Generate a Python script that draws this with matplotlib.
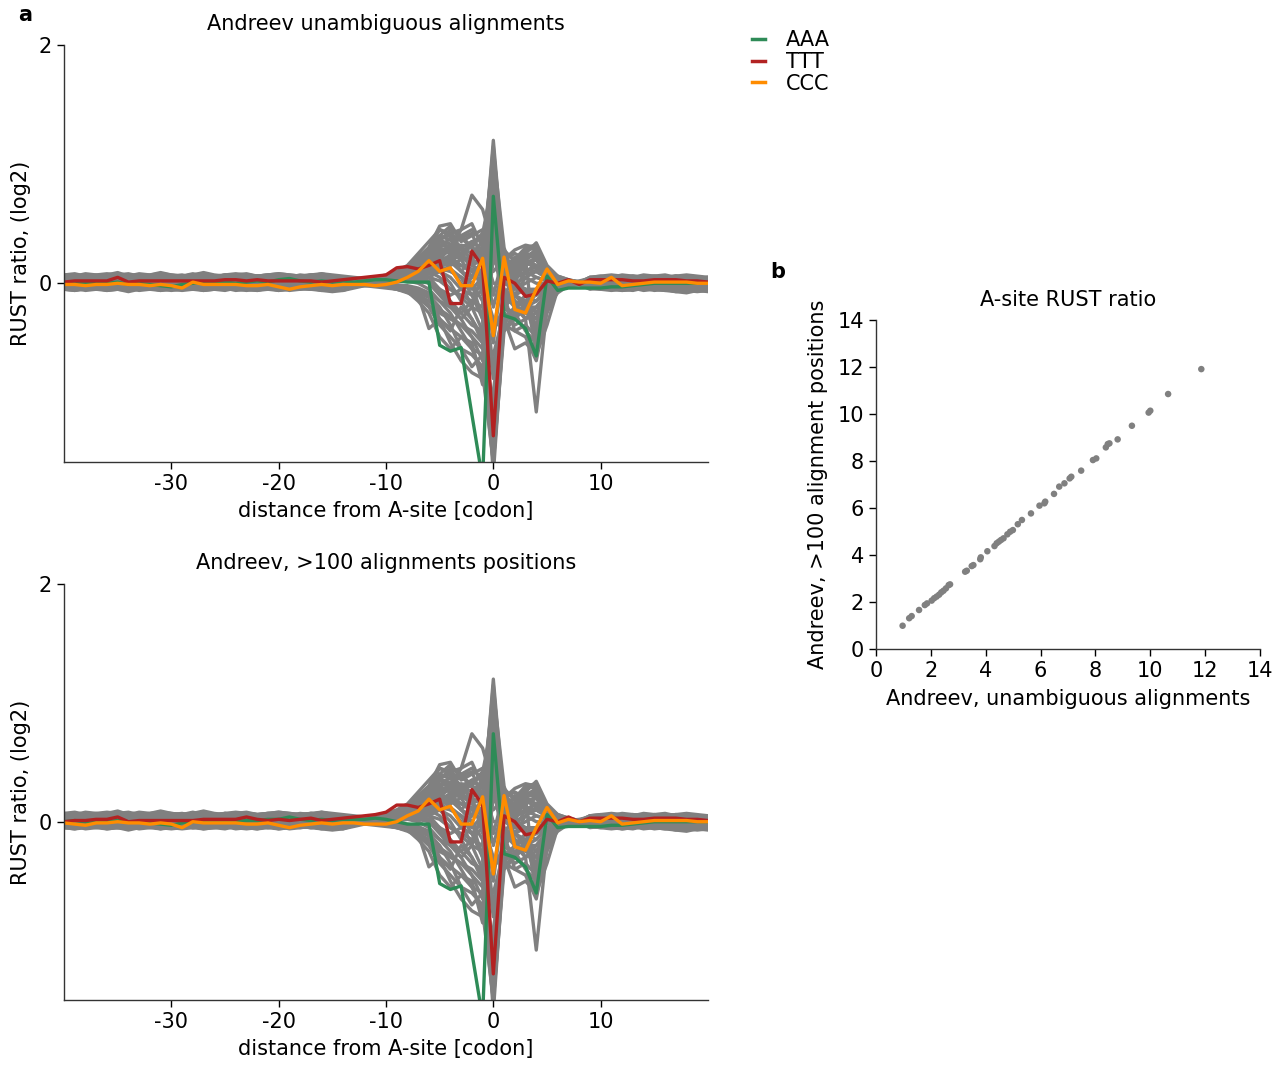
import numpy as np
import matplotlib
matplotlib.use("Agg")
import matplotlib.pyplot as plt
from matplotlib.lines import Line2D

plt.rcParams['font.family'] = ['DejaVu Sans']
plt.rcParams['axes.unicode_minus'] = False

# ---------------- data ----------------
positions = list(range(-40, 21))  # distance from A-site [codon]

# colored codons, top panel (unambiguous alignments)
aaa_top = [0.0, 0.01, 0.0, 0.01, 0.0, 0.01, -0.01, 0.0, -0.01, -0.02, -0.03, -0.01, 0.0, 0.01,
           0.0, 0.01, 0.0, 0.01, 0.02, 0.01, 0.03, 0.04, 0.02, 0.01, 0.02, 0.01, 0.02, 0.01,
           0.02, 0.03, 0.03, 0.02, 0.01, 0.01, 0.01, -0.52, -0.57, -0.54, -1.1, -1.65, 0.73,
           -0.27, -0.3, -0.38, -0.61, 0.06, -0.06, -0.04, -0.04,
           -0.04, -0.04, -0.03, -0.03, -0.02, -0.01, 0.0, 0.0, 0.0, 0.0, 0.0, 0.0]
ttt_top = [0.01, 0.02, 0.02, 0.02, 0.02, 0.05, 0.01, 0.02, 0.02, 0.02, 0.02, 0.02, 0.02, 0.02,
           0.02, 0.03, 0.03, 0.02, 0.03, 0.02, 0.02, 0.02, 0.02, 0.02, 0.01, 0.02, 0.03, 0.04,
           0.05, 0.06, 0.07, 0.13, 0.14, 0.12, 0.15, 0.19, -0.17, -0.17, 0.27, 0.14, -1.28,
           0.05, 0.0, -0.11, -0.09, 0.02, 0.0, 0.03, -0.01,
           0.03, 0.03, 0.03, 0.03, 0.02, 0.02, 0.03, 0.03, 0.03, 0.02, 0.02, 0.01]
ccc_top = [-0.01, -0.01, -0.02, -0.01, -0.01, 0.0, -0.01, -0.01, -0.02, -0.01, -0.02, -0.04, 0.01, -0.01,
           -0.01, -0.01, -0.01, -0.02, -0.02, -0.01, -0.03, -0.05, -0.03, -0.02, -0.01, -0.02, -0.01, -0.01,
           -0.01, -0.02, -0.01, 0.01, 0.05, 0.1, 0.19, 0.1, 0.13, -0.02, -0.02, 0.21, -0.44,
           0.22, -0.22, -0.25, -0.05, 0.12, -0.01, 0.02, 0.01,
           0.01, 0.0, 0.05, -0.02, -0.01, 0.0, 0.01, 0.01, 0.01, 0.01, 0.0, 0.0]

# colored codons, bottom panel (>100 alignments positions)
aaa_bot = [0.0, 0.01, 0.0, 0.01, 0.0, 0.01, 0.0, 0.0, -0.01, -0.02, -0.03, -0.01, 0.0, 0.01,
           0.0, 0.01, 0.0, 0.01, 0.01, 0.02, 0.02, 0.04, 0.02, 0.01, 0.02, 0.01, 0.02, 0.02,
           0.02, 0.03, 0.02, 0.0, -0.02, -0.02, -0.02, -0.52, -0.57, -0.54, -1.1, -1.65, 0.74,
           -0.27, -0.3, -0.38, -0.6, 0.06, -0.05, -0.04, -0.04,
           -0.04, -0.04, -0.03, -0.03, -0.02, -0.01, 0.0, 0.0, 0.0, 0.0, 0.0, 0.0]
ttt_bot = [0.0, 0.01, 0.01, 0.02, 0.02, 0.04, 0.0, 0.01, 0.01, 0.01, 0.01, 0.01, 0.01, 0.02,
           0.02, 0.02, 0.02, 0.04, 0.02, 0.01, 0.02, 0.01, 0.02, 0.03, 0.01, 0.02, 0.03, 0.04,
           0.05, 0.06, 0.08, 0.14, 0.14, 0.12, 0.15, 0.19, -0.17, -0.17, 0.27, 0.14, -1.28,
           0.05, 0.0, -0.11, -0.09, 0.02, 0.0, 0.04, 0.0,
           0.03, 0.03, 0.03, 0.03, 0.02, 0.02, 0.03, 0.03, 0.03, 0.02, 0.02, 0.01]
ccc_bot = [-0.01, -0.02, -0.03, -0.01, -0.01, 0.0, -0.01, -0.01, -0.02, -0.01, -0.02, -0.05, 0.0, -0.01,
           -0.01, -0.01, -0.01, -0.02, -0.02, -0.01, -0.03, -0.05, -0.03, -0.02, -0.01, -0.02, -0.01, -0.01,
           -0.02, -0.02, -0.02, 0.0, 0.05, 0.09, 0.19, 0.1, 0.13, -0.02, -0.02, 0.21, -0.44,
           0.22, -0.21, -0.24, -0.05, 0.12, -0.01, 0.02, 0.0,
           0.01, 0.0, 0.05, -0.02, -0.01, 0.0, 0.01, 0.01, 0.01, 0.01, 0.0, 0.0]

# other codons: upstream tail (-40..-13), core (-12..8), downstream tail (9..20)
grey_left = [
    [0.03,0.04,0.02,0.03,0.05,0.04,0.02,0.03,0.04,0.03,0.05,0.02,0.03,0.04,0.03,0.02,0.04,0.05,0.03,0.02,0.04,0.03,0.05,0.04,0.03,0.04,0.05,0.04],
    [0.05,0.06,0.04,0.05,0.07,0.05,0.04,0.06,0.05,0.04,0.06,0.07,0.05,0.04,0.05,0.06,0.05,0.07,0.06,0.05,0.04,0.06,0.05,0.07,0.06,0.05,0.04,0.03],
    [0.06,0.07,0.05,0.06,0.07,0.09,0.06,0.05,0.06,0.07,0.05,0.06,0.08,0.06,0.05,0.07,0.06,0.05,0.06,0.07,0.06,0.05,0.07,0.06,0.08,0.07,0.06,0.05],
    [0.04,0.03,0.05,0.04,0.03,0.04,0.06,0.04,0.03,0.05,0.04,0.03,0.04,0.05,0.06,0.04,0.03,0.04,0.05,0.04,0.03,0.05,0.04,0.06,0.05,0.04,0.05,0.04],
    [0.0,0.01,-0.01,0.0,0.02,0.01,0.0,-0.01,0.01,0.0,0.02,0.0,-0.01,0.01,0.0,0.01,-0.01,0.0,0.02,0.01,0.0,0.01,-0.01,0.0,0.01,0.02,0.0,0.01],
    [0.02,0.01,0.03,0.02,0.01,0.03,0.02,0.04,0.02,0.01,0.02,0.03,0.02,0.01,0.03,0.02,0.03,0.01,0.02,0.03,0.02,0.01,0.02,0.03,0.02,0.01,0.02,0.02],
    [-0.01,0.0,-0.02,-0.01,0.0,-0.01,-0.02,0.0,-0.01,0.01,-0.01,0.0,-0.02,-0.01,0.0,-0.01,0.01,0.0,-0.01,-0.02,0.0,-0.01,0.0,0.01,-0.01,0.0,0.01,0.0],
    [-0.05,-0.04,-0.06,-0.05,-0.04,-0.05,-0.06,-0.04,-0.05,-0.06,-0.05,-0.04,-0.05,-0.06,-0.05,-0.04,-0.06,-0.05,-0.04,-0.05,-0.06,-0.05,-0.04,-0.05,-0.06,-0.07,-0.06,-0.04],
    [-0.02,-0.01,-0.03,-0.02,-0.01,-0.02,-0.03,-0.02,-0.04,-0.02,-0.01,-0.02,-0.03,-0.02,-0.01,-0.03,-0.02,-0.01,-0.02,-0.03,-0.02,-0.01,-0.03,-0.02,-0.04,-0.05,-0.06,-0.03],
    [-0.04,-0.05,-0.03,-0.04,-0.05,-0.04,-0.03,-0.05,-0.04,-0.06,-0.04,-0.03,-0.04,-0.05,-0.04,-0.03,-0.04,-0.05,-0.06,-0.04,-0.03,-0.04,-0.05,-0.04,-0.05,-0.04,-0.03,-0.02],
    [0.01,0.02,0.0,0.01,0.03,0.02,0.01,0.0,0.02,0.01,0.03,0.05,0.02,0.01,0.0,0.01,0.02,0.01,0.03,0.02,0.01,0.0,0.02,0.01,0.03,0.02,0.01,0.02],
    [0.03,0.02,0.04,0.03,0.02,0.03,0.05,0.03,0.02,0.04,0.03,0.02,0.03,0.04,0.02,0.03,0.05,0.03,0.02,0.03,0.04,0.03,0.02,0.04,0.03,0.02,0.03,0.02],
    [0.07,0.06,0.08,0.07,0.06,0.07,0.08,0.06,0.07,0.08,0.07,0.06,0.07,0.09,0.07,0.06,0.07,0.08,0.06,0.07,0.08,0.07,0.06,0.07,0.08,0.06,0.04,0.02],
    [0.0,-0.01,0.01,0.0,-0.01,0.0,0.02,0.0,-0.01,0.0,0.01,-0.01,0.0,0.01,0.02,0.0,-0.01,0.0,0.01,0.0,-0.02,0.0,0.01,0.0,-0.01,0.0,0.01,0.0],
    [-0.03,-0.02,-0.04,-0.03,-0.02,-0.04,-0.05,-0.03,-0.02,-0.03,-0.04,-0.02,-0.03,-0.05,-0.04,-0.03,-0.02,-0.03,-0.04,-0.03,-0.05,-0.04,-0.03,-0.02,-0.03,-0.04,-0.03,-0.02],
    [0.05,0.04,0.06,0.05,0.04,0.05,0.07,0.05,0.04,0.06,0.05,0.04,0.05,0.06,0.05,0.07,0.05,0.04,0.06,0.05,0.04,0.05,0.06,0.05,0.04,0.05,0.04,0.03],
    [0.01,0.0,0.02,0.01,0.0,0.01,0.02,0.01,0.03,0.01,0.0,0.01,0.02,0.0,0.01,0.02,0.01,0.0,0.01,0.03,0.01,0.0,0.02,0.01,0.0,0.01,0.02,0.01],
    [-0.02,-0.03,-0.01,-0.02,-0.04,-0.02,-0.01,-0.03,-0.02,-0.01,-0.02,-0.03,-0.04,-0.02,-0.01,-0.02,-0.03,-0.02,-0.01,-0.03,-0.02,-0.04,-0.02,-0.01,-0.02,-0.03,-0.02,-0.02],
    [0.02,0.03,0.01,0.02,0.03,0.02,0.01,0.03,0.02,0.04,0.02,0.01,0.02,0.03,0.02,0.01,0.02,0.03,0.04,0.02,0.01,0.02,0.03,0.02,0.01,0.02,0.01,0.0],
    [0.04,0.05,0.03,0.04,0.06,0.04,0.03,0.05,0.04,0.03,0.04,0.06,0.04,0.05,0.03,0.04,0.05,0.04,0.03,0.05,0.06,0.04,0.03,0.04,0.05,0.04,0.03,0.02],
    [-0.04,-0.03,-0.05,-0.04,-0.03,-0.04,-0.05,-0.03,-0.04,-0.05,-0.04,-0.03,-0.05,-0.04,-0.03,-0.04,-0.05,-0.04,-0.03,-0.04,-0.05,-0.04,-0.03,-0.04,-0.05,-0.03,-0.02,-0.01],
    [0.01,0.02,0.01,0.03,0.01,0.02,0.0,0.01,0.02,0.01,0.02,0.03,0.01,0.0,0.02,0.01,0.02,0.01,0.03,0.02,0.01,0.02,0.0,0.01,0.02,0.03,0.02,0.01],
    [0.06,0.05,0.07,0.06,0.05,0.06,0.07,0.05,0.06,0.07,0.05,0.06,0.05,0.07,0.06,0.05,0.06,0.07,0.06,0.05,0.07,0.06,0.05,0.06,0.05,0.04,0.03,0.02],
    [-0.01,-0.02,0.0,-0.01,-0.02,-0.01,0.0,-0.02,-0.01,-0.03,-0.01,0.0,-0.01,-0.02,-0.01,0.0,-0.02,-0.01,-0.03,-0.01,0.0,-0.01,-0.02,-0.01,0.0,-0.01,-0.02,0.0],
    [0.03,0.04,0.03,0.02,0.04,0.03,0.05,0.03,0.02,0.03,0.04,0.03,0.02,0.04,0.03,0.05,0.04,0.03,0.02,0.03,0.04,0.05,0.03,0.04,0.03,0.02,0.03,0.02],
    [0.0,0.01,0.0,-0.01,0.01,0.0,0.01,0.02,0.0,-0.01,0.0,0.01,0.0,0.02,0.01,0.0,-0.01,0.0,0.01,0.02,0.0,0.01,0.0,-0.01,0.0,0.01,0.0,0.0],
    [-0.05,-0.06,-0.04,-0.05,-0.06,-0.05,-0.04,-0.06,-0.05,-0.04,-0.05,-0.06,-0.05,-0.04,-0.05,-0.06,-0.04,-0.05,-0.06,-0.05,-0.04,-0.06,-0.05,-0.04,-0.06,-0.05,-0.03,-0.02],
    [0.02,0.01,0.02,0.03,0.01,0.02,0.03,0.02,0.01,0.02,0.04,0.02,0.01,0.02,0.03,0.02,0.01,0.03,0.02,0.01,0.02,0.03,0.02,0.01,0.02,0.03,0.02,0.02],
    [0.05,0.06,0.05,0.04,0.06,0.05,0.06,0.07,0.05,0.04,0.05,0.06,0.05,0.04,0.06,0.05,0.07,0.06,0.05,0.04,0.05,0.06,0.05,0.06,0.04,0.03,0.02,0.01],
    [-0.02,-0.01,-0.02,-0.03,-0.01,-0.02,-0.01,-0.03,-0.02,-0.01,-0.02,-0.01,-0.03,-0.02,-0.01,-0.02,-0.03,-0.01,-0.02,-0.01,-0.03,-0.02,-0.01,-0.02,-0.03,-0.02,-0.01,-0.01],
    [0.04,0.05,0.03,0.04,0.06,0.04,0.05,0.03,0.04,0.05,0.06,0.04,0.03,0.05,0.04,0.06,0.05,0.04,0.03,0.05,0.04,0.06,0.04,0.05,0.03,0.04,0.03,0.02],
    [-0.03,-0.04,-0.02,-0.03,-0.04,-0.03,-0.02,-0.04,-0.03,-0.05,-0.03,-0.02,-0.03,-0.04,-0.02,-0.03,-0.04,-0.03,-0.02,-0.04,-0.03,-0.02,-0.03,-0.04,-0.02,-0.01,0.0,0.01],
    [0.07,0.08,0.06,0.07,0.08,0.07,0.06,0.08,0.07,0.09,0.07,0.06,0.07,0.08,0.06,0.07,0.08,0.07,0.06,0.07,0.08,0.07,0.06,0.07,0.06,0.05,0.04,0.03],
    [0.01,0.0,0.02,0.01,0.0,0.01,0.02,0.0,0.01,0.02,0.01,0.0,0.01,0.02,0.01,0.0,0.02,0.01,0.0,0.01,0.02,0.01,0.0,0.01,0.02,0.01,0.0,0.0],
    [0.03,0.02,0.04,0.03,0.02,0.04,0.03,0.05,0.03,0.02,0.03,0.04,0.03,0.02,0.04,0.03,0.02,0.03,0.04,0.03,0.02,0.04,0.03,0.02,0.03,0.04,0.03,0.02],
    [-0.01,0.0,-0.02,-0.01,0.0,-0.01,-0.02,-0.01,0.0,-0.02,-0.01,0.0,-0.01,-0.03,-0.01,0.0,-0.01,-0.02,-0.01,0.0,-0.01,-0.02,0.0,-0.01,0.0,0.01,0.0,0.01],
    [0.05,0.06,0.04,0.05,0.06,0.05,0.04,0.06,0.05,0.04,0.05,0.06,0.05,0.07,0.05,0.04,0.05,0.06,0.05,0.04,0.06,0.05,0.04,0.05,0.04,0.03,0.03,0.02],
    [0.02,0.03,0.01,0.02,0.03,0.02,0.01,0.02,0.03,0.02,0.01,0.03,0.02,0.01,0.02,0.03,0.02,0.01,0.02,0.03,0.02,0.01,0.02,0.03,0.02,0.01,0.02,0.01],
    [-0.05,-0.06,-0.05,-0.04,-0.06,-0.05,-0.07,-0.05,-0.04,-0.05,-0.06,-0.05,-0.04,-0.06,-0.05,-0.04,-0.05,-0.06,-0.05,-0.04,-0.06,-0.05,-0.04,-0.05,-0.04,-0.03,-0.02,-0.02],
    [0.06,0.05,0.07,0.06,0.05,0.06,0.07,0.06,0.05,0.07,0.06,0.05,0.06,0.07,0.06,0.05,0.07,0.06,0.05,0.06,0.07,0.06,0.05,0.06,0.05,0.04,0.03,0.03],
    [0.0,0.01,-0.01,0.0,0.01,0.0,-0.01,0.0,0.01,0.0,-0.01,0.01,0.0,-0.01,0.0,0.01,0.0,-0.01,0.0,0.01,0.0,-0.01,0.0,0.01,0.0,0.0,0.01,0.0],
    [0.04,0.03,0.05,0.04,0.03,0.04,0.05,0.04,0.03,0.04,0.05,0.04,0.03,0.05,0.04,0.03,0.04,0.05,0.04,0.03,0.04,0.05,0.04,0.03,0.04,0.03,0.03,0.02],
    [-0.04,-0.03,-0.05,-0.04,-0.03,-0.05,-0.04,-0.03,-0.04,-0.05,-0.04,-0.03,-0.05,-0.04,-0.03,-0.04,-0.05,-0.04,-0.03,-0.05,-0.04,-0.03,-0.04,-0.05,-0.04,-0.03,-0.03,-0.02],
    [0.02,0.01,0.03,0.02,0.01,0.02,0.03,0.02,0.01,0.03,0.02,0.01,0.02,0.03,0.02,0.04,0.02,0.01,0.02,0.03,0.02,0.01,0.02,0.03,0.02,0.01,0.02,0.01],
    [-0.02,-0.01,-0.03,-0.02,-0.01,-0.02,-0.03,-0.02,-0.01,-0.02,-0.03,-0.02,-0.01,-0.02,-0.03,-0.02,-0.01,-0.03,-0.02,-0.01,-0.02,-0.03,-0.02,-0.01,-0.02,-0.01,0.0,0.0],
    [0.03,0.04,0.02,0.03,0.04,0.03,0.02,0.04,0.03,0.02,0.03,0.04,0.03,0.02,0.03,0.04,0.03,0.02,0.04,0.03,0.02,0.03,0.04,0.03,0.02,0.03,0.02,0.02],
]
grey_core = [
    [0.03,0.05,0.06,0.08,0.1,0.15,0.2,0.3,0.25,0.1,0.05,0.1,1.2,0.15,0.05,0.1,0.15,0.05,0.02,0.01,0.0],
    [0.02,0.04,0.05,0.07,0.12,0.2,0.3,0.45,0.4,0.3,0.2,-0.1,1.0,0.1,0.0,0.2,0.25,0.1,0.03,0.02,0.01],
    [0.04,0.05,0.07,0.1,0.15,0.25,0.35,0.45,0.42,0.45,0.74,0.62,0.3,-0.2,-0.1,0.05,0.1,0.05,0.0,0.01,0.02],
    [0.03,0.04,0.06,0.09,0.14,0.22,0.3,0.48,0.5,0.35,0.4,0.45,0.2,0.1,0.15,0.3,0.32,0.12,0.05,0.02,0.0],
    [0.01,0.02,0.04,0.06,0.1,0.18,0.25,0.4,0.48,0.2,0.35,0.38,0.8,0.25,0.1,0.25,0.34,0.15,0.06,0.03,0.01],
    [0.02,0.03,0.05,0.08,0.1,0.12,0.2,0.32,0.3,0.25,0.15,0.2,0.6,0.2,0.12,0.18,0.2,0.08,0.02,0.0,0.0],
    [0.0,0.01,0.02,0.03,0.05,0.08,0.1,0.15,0.1,0.05,0.0,-0.3,-1.6,-0.3,-0.2,-0.1,-0.05,0.0,0.0,0.0,-0.01],
    [-0.02,-0.03,-0.04,-0.05,-0.08,-0.12,-0.2,-0.35,-0.45,-0.55,-0.6,-0.7,-1.5,-0.4,-0.3,-0.2,-0.15,-0.05,-0.02,0.0,0.0],
    [0.0,-0.01,-0.02,-0.04,-0.06,-0.1,-0.38,-0.3,-0.5,-0.65,-0.75,-0.8,0.4,-0.1,-0.2,-0.3,-0.2,-0.1,-0.03,-0.01,0.0],
    [-0.01,-0.02,-0.03,-0.05,-0.07,-0.15,-0.25,-0.45,-0.55,-0.45,-0.5,-0.85,-0.9,-0.3,-0.55,-0.5,-0.6,-0.2,-0.08,-0.02,-0.01],
    [0.01,0.02,0.02,0.03,0.05,0.08,0.1,0.05,-0.05,-0.1,-0.15,-0.2,0.5,0.1,-0.15,-0.3,-1.08,-0.2,-0.05,0.0,0.0],
    [0.02,0.03,0.03,0.04,0.06,0.05,0.0,-0.1,-0.2,-0.3,-0.2,0.1,0.9,0.2,0.25,0.2,-0.6,-0.35,-0.05,0.01,0.0],
    [0.01,0.0,0.01,0.02,0.03,0.05,0.08,0.12,0.1,0.05,-0.1,-0.3,-1.2,0.1,0.2,0.1,0.05,0.02,0.0,0.0,0.0],
    [0.0,0.01,0.02,0.04,0.06,0.1,0.15,0.2,0.15,0.2,0.05,0.1,0.7,-0.2,-0.3,-0.15,-0.1,-0.05,0.0,0.0,0.0],
    [-0.01,-0.02,-0.02,-0.03,-0.05,-0.08,-0.12,-0.25,-0.3,-0.35,-0.4,-0.5,0.2,0.05,0.0,-0.1,-0.15,-0.05,-0.02,0.0,0.0],
    [0.03,0.04,0.05,0.06,0.08,0.12,0.18,0.25,0.28,0.32,0.3,0.25,-0.5,0.2,0.15,0.22,0.28,0.1,0.04,0.02,0.01],
    [0.01,0.02,0.03,0.04,0.06,0.1,0.12,0.15,0.2,0.1,0.0,-0.15,-0.8,-0.1,0.05,0.15,0.2,0.05,0.0,0.0,0.01],
    [-0.02,-0.01,0.0,0.01,0.02,0.0,-0.05,-0.15,-0.25,-0.4,-0.55,-0.6,1.1,0.3,0.0,-0.05,-0.1,0.0,0.0,0.0,0.0],
    [0.0,0.01,0.01,0.02,0.04,0.06,0.1,0.18,0.22,0.15,0.1,0.0,-0.3,-0.4,-0.25,-0.2,-0.45,-0.15,-0.05,-0.02,0.0],
    [0.02,0.02,0.03,0.05,0.07,0.1,0.2,0.35,0.3,0.4,0.45,0.35,0.95,0.05,0.1,0.25,0.2,0.1,0.05,0.02,0.0],
    [-0.01,-0.01,-0.02,-0.03,-0.04,-0.06,-0.1,-0.2,-0.35,-0.55,-0.7,-0.6,-1.4,-0.2,-0.1,-0.05,-0.6,-0.25,-0.05,-0.01,0.0],
    [0.01,0.02,0.04,0.05,0.08,0.14,0.22,0.3,0.38,0.28,0.2,0.3,0.55,0.22,0.05,0.3,0.3,0.12,0.06,0.03,0.01],
    [0.0,0.0,-0.01,-0.02,-0.03,-0.05,-0.1,-0.3,-0.4,-0.2,-0.3,-0.45,-0.6,-0.25,-0.35,-0.3,-0.25,-0.1,-0.03,0.0,0.0],
    [0.02,0.03,0.04,0.06,0.08,0.1,0.14,0.22,0.18,0.1,0.2,0.15,1.15,0.1,0.05,0.08,0.1,0.05,0.03,0.02,0.01],
    [0.0,0.0,0.01,0.02,0.02,0.03,0.05,0.1,0.0,-0.15,-0.3,-0.5,-1.0,-0.05,-0.15,-0.2,-0.3,-0.1,-0.04,-0.01,0.0],
    [0.01,0.02,0.02,0.03,0.05,0.08,0.12,0.2,0.3,0.45,0.5,0.3,0.0,0.0,0.1,0.2,0.15,0.05,0.02,0.01,0.0],
    [0.0,0.0,0.0,0.01,0.02,0.02,0.0,-0.05,-0.1,-0.05,0.05,0.2,0.3,0.1,0.0,-0.05,-0.05,-0.02,0.0,0.0,0.0],
    [0.02,0.03,0.04,0.05,0.07,0.09,0.15,0.25,0.32,0.38,0.42,0.2,-0.2,0.15,0.2,0.28,0.3,0.1,0.04,0.02,0.01],
    [-0.01,-0.01,-0.01,-0.02,-0.02,-0.04,-0.08,-0.15,-0.2,-0.25,-0.15,-0.05,0.45,-0.1,-0.4,-0.45,-0.65,-0.2,-0.06,-0.02,-0.01],
    [0.01,0.01,0.02,0.03,0.04,0.06,0.08,0.1,0.12,0.05,-0.05,0.05,0.65,0.0,-0.05,0.0,0.05,0.02,0.01,0.0,0.0],
    [0.02,0.03,0.05,0.07,0.1,0.16,0.24,0.36,0.33,0.28,0.3,0.42,0.85,0.18,0.08,0.22,0.26,0.1,0.04,0.02,0.01],
    [0.01,0.01,0.02,0.03,0.04,0.06,0.05,-0.05,-0.15,-0.25,-0.35,-0.4,-1.1,-0.35,-0.4,-0.35,-0.45,-0.15,-0.04,-0.01,0.0],
    [0.03,0.04,0.06,0.08,0.11,0.18,0.28,0.4,0.36,0.3,0.25,0.35,-0.1,0.25,0.2,0.3,0.28,0.12,0.05,0.02,0.01],
    [0.0,0.0,0.01,0.02,0.03,0.04,0.02,-0.08,-0.18,-0.3,-0.45,-0.55,0.75,0.05,-0.1,-0.2,-0.35,-0.12,-0.03,-0.01,0.0],
    [0.02,0.03,0.04,0.06,0.08,0.13,0.2,0.28,0.25,0.2,0.22,0.3,1.05,0.2,0.1,0.15,0.2,0.08,0.03,0.02,0.01],
    [0.01,0.02,0.03,0.04,0.06,0.09,0.14,0.2,0.12,0.0,-0.2,-0.4,-1.3,-0.15,0.0,0.05,0.0,0.0,0.0,0.0,0.0],
    [0.02,0.02,0.03,0.05,0.07,0.11,0.16,0.22,0.2,0.15,0.12,0.05,0.35,-0.05,-0.2,-0.25,-0.3,-0.1,-0.03,0.0,0.0],
    [0.01,0.02,0.03,0.05,0.06,0.08,0.12,0.18,0.24,0.3,0.35,0.28,0.5,0.28,0.18,0.12,0.1,0.04,0.02,0.01,0.0],
    [-0.01,-0.02,-0.03,-0.04,-0.06,-0.1,-0.15,-0.22,-0.28,-0.35,-0.45,-0.65,-0.4,-0.2,-0.25,-0.4,-0.5,-0.18,-0.05,-0.02,-0.01],
    [0.03,0.04,0.05,0.07,0.09,0.14,0.22,0.35,0.45,0.4,0.3,0.15,0.9,0.12,0.15,0.25,0.22,0.1,0.04,0.02,0.01],
    [0.0,0.01,0.01,0.02,0.03,0.05,0.08,0.1,0.05,-0.05,-0.1,0.0,-0.7,-0.25,-0.3,-0.2,-0.2,-0.08,-0.02,0.0,0.0],
    [0.02,0.03,0.04,0.06,0.09,0.15,0.25,0.38,0.4,0.38,0.3,0.18,0.1,0.2,0.28,0.32,0.3,0.12,0.05,0.02,0.01],
    [-0.02,-0.02,-0.03,-0.05,-0.07,-0.1,-0.18,-0.3,-0.38,-0.45,-0.55,-0.75,-1.5,-0.35,-0.2,-0.15,-0.25,-0.1,-0.03,-0.01,0.0],
    [0.01,0.02,0.03,0.04,0.05,0.08,0.1,0.14,0.18,0.25,0.32,0.42,0.6,0.15,-0.05,0.1,0.15,0.05,0.02,0.01,0.0],
    [0.0,0.01,0.02,0.02,0.03,0.04,0.05,0.02,-0.05,-0.12,-0.2,-0.25,1.0,0.05,-0.1,-0.15,-0.4,-0.12,-0.03,0.0,0.0],
    [0.02,0.02,0.03,0.04,0.06,0.1,0.15,0.22,0.28,0.22,0.15,0.1,-0.4,0.1,0.22,0.18,0.12,0.05,0.02,0.01,0.0],
]
grey_right = [
    [0.01,0.02,0.01,0.03,0.02,0.01,0.02,0.01,0.02,0.01,0.02,0.01],
    [0.03,0.04,0.03,0.05,0.04,0.03,0.04,0.05,0.04,0.03,0.04,0.03],
    [0.04,0.05,0.04,0.06,0.05,0.04,0.05,0.04,0.06,0.05,0.04,0.05],
    [0.03,0.02,0.03,0.04,0.03,0.02,0.03,0.04,0.03,0.02,0.03,0.02],
    [0.0,0.01,0.0,-0.01,0.0,0.01,0.0,0.0,-0.01,0.0,0.01,0.0],
    [0.02,0.01,0.02,0.03,0.02,0.01,0.02,0.02,0.01,0.02,0.03,0.02],
    [-0.01,0.0,-0.01,0.0,-0.02,-0.01,0.0,-0.01,0.0,-0.01,-0.02,-0.01],
    [-0.04,-0.05,-0.06,-0.05,-0.04,-0.06,-0.05,-0.04,-0.06,-0.07,-0.06,-0.05],
    [-0.03,-0.02,-0.01,-0.02,-0.03,-0.02,-0.01,-0.02,-0.03,-0.02,-0.03,-0.02],
    [-0.05,-0.04,-0.03,-0.05,-0.06,-0.04,-0.05,-0.06,-0.05,-0.04,-0.06,-0.07],
    [0.01,0.0,0.02,0.01,0.0,0.01,0.02,0.01,0.0,0.01,0.02,0.01],
    [0.02,0.03,0.02,0.01,0.03,0.02,0.04,0.02,0.03,0.02,0.01,0.02],
    [0.05,0.06,0.05,0.07,0.06,0.05,0.06,0.07,0.05,0.06,0.05,0.04],
    [0.0,-0.01,0.0,0.01,0.0,-0.01,0.0,0.01,0.0,-0.01,0.0,0.0],
    [-0.02,-0.03,-0.04,-0.03,-0.02,-0.04,-0.03,-0.05,-0.04,-0.03,-0.04,-0.05],
    [0.04,0.03,0.05,0.04,0.03,0.04,0.05,0.04,0.03,0.05,0.04,0.03],
    [0.01,0.0,0.01,0.02,0.01,0.0,0.01,0.02,0.01,0.0,0.01,0.0],
    [-0.02,-0.01,-0.02,-0.03,-0.02,-0.01,-0.02,-0.03,-0.02,-0.04,-0.03,-0.02],
    [0.02,0.01,0.02,0.03,0.02,0.01,0.02,0.03,0.02,0.01,0.02,0.01],
    [0.03,0.04,0.03,0.05,0.04,0.03,0.04,0.03,0.05,0.04,0.03,0.04],
    [-0.03,-0.04,-0.05,-0.04,-0.03,-0.05,-0.04,-0.03,-0.05,-0.06,-0.07,-0.06],
    [0.01,0.02,0.01,0.0,0.02,0.01,0.02,0.01,0.0,0.01,0.02,0.01],
    [0.05,0.04,0.06,0.05,0.04,0.05,0.06,0.05,0.04,0.06,0.05,0.04],
    [-0.01,0.0,-0.02,-0.01,0.0,-0.01,-0.02,-0.01,0.0,-0.01,-0.02,-0.01],
    [0.02,0.03,0.04,0.03,0.02,0.03,0.04,0.03,0.02,0.03,0.04,0.03],
    [0.0,0.01,0.0,-0.01,0.01,0.0,0.0,0.01,-0.01,0.0,0.01,0.0],
    [-0.04,-0.05,-0.04,-0.06,-0.05,-0.04,-0.06,-0.05,-0.07,-0.08,-0.06,-0.05],
    [0.02,0.01,0.03,0.02,0.01,0.02,0.03,0.02,0.01,0.02,0.03,0.02],
    [0.03,0.04,0.05,0.04,0.06,0.05,0.04,0.05,0.06,0.04,0.05,0.04],
    [-0.01,-0.02,-0.01,-0.03,-0.02,-0.01,-0.02,-0.03,-0.02,-0.01,-0.02,-0.03],
    [0.02,0.03,0.04,0.03,0.02,0.04,0.03,0.02,0.03,0.04,0.03,0.02],
    [-0.01,-0.02,-0.03,-0.02,-0.04,-0.03,-0.02,-0.03,-0.04,-0.03,-0.02,-0.03],
    [0.05,0.06,0.07,0.06,0.05,0.07,0.06,0.05,0.06,0.07,0.06,0.05],
    [0.0,-0.01,0.0,0.01,0.0,-0.01,0.0,0.01,0.0,-0.01,0.0,0.01],
    [0.01,0.02,0.03,0.02,0.01,0.02,0.03,0.02,0.01,0.02,0.02,0.01],
    [-0.01,0.0,-0.01,-0.02,-0.01,0.0,-0.01,-0.02,-0.01,0.0,-0.01,-0.02],
    [0.03,0.04,0.05,0.04,0.03,0.04,0.05,0.04,0.03,0.04,0.05,0.04],
    [0.01,0.02,0.01,0.0,0.01,0.02,0.01,0.0,0.01,0.02,0.01,0.0],
    [-0.03,-0.04,-0.05,-0.06,-0.05,-0.04,-0.05,-0.06,-0.07,-0.06,-0.05,-0.06],
    [0.04,0.05,0.04,0.05,0.06,0.05,0.04,0.05,0.06,0.05,0.04,0.05],
    [0.0,0.01,0.0,-0.01,0.0,0.0,0.01,0.0,-0.01,0.0,0.01,0.0],
    [0.03,0.04,0.03,0.02,0.03,0.04,0.03,0.02,0.03,0.04,0.03,0.02],
    [-0.02,-0.03,-0.04,-0.03,-0.04,-0.05,-0.04,-0.03,-0.04,-0.05,-0.04,-0.05],
    [0.01,0.0,0.01,0.02,0.01,0.0,0.01,0.02,0.01,0.0,0.01,0.02],
    [-0.01,-0.02,-0.01,-0.02,-0.03,-0.02,-0.01,-0.02,-0.03,-0.02,-0.01,-0.02],
    [0.01,0.02,0.01,0.02,0.03,0.02,0.01,0.02,0.03,0.02,0.01,0.02],
]

# panel b: A-site RUST ratio
rust_unambiguous = [0.97, 1.21, 1.30, 1.57, 1.78, 1.86, 2.03, 2.12, 2.21, 2.30, 2.38, 2.46, 2.55,
                    2.65, 2.70, 3.25, 3.31, 3.49, 3.55, 3.80, 3.82, 4.06, 4.32, 4.40, 4.48, 4.56,
                    4.65, 4.79, 4.89, 4.99, 5.17, 5.32, 5.65, 5.96, 6.14, 6.17, 6.49, 6.68, 6.87,
                    7.06, 7.12, 7.48, 7.91, 8.03, 8.38, 8.45, 8.51, 8.81, 9.33, 9.94, 10.0, 10.65, 11.86]
rust_100pos = [0.99, 1.31, 1.40, 1.66, 1.87, 1.94, 2.06, 2.16, 2.23, 2.31, 2.41, 2.48, 2.58,
               2.72, 2.75, 3.29, 3.33, 3.53, 3.57, 3.82, 3.90, 4.16, 4.38, 4.50, 4.57, 4.64,
               4.71, 4.88, 4.99, 5.06, 5.31, 5.49, 5.77, 6.10, 6.20, 6.27, 6.60, 6.91, 7.05,
               7.26, 7.33, 7.59, 8.04, 8.11, 8.58, 8.72, 8.75, 8.92, 9.50, 10.06, 10.14, 10.85, 11.91]

codon_labels = ['AAA', 'TTT', 'CCC']
codon_colors = ['#2e8b57', '#b22222', '#ff8c00']
grey_color = '#808080'

# ---------------- figure ----------------
W, H = 1285, 1066
fig = plt.figure(figsize=(W / 100, H / 100), dpi=100)

def px_axes(l, t, r, b):
    return fig.add_axes([l / W, 1 - b / H, (r - l) / W, (b - t) / H])

ax_top = px_axes(64, 45, 708, 462)
ax_bot = px_axes(64, 584, 708, 1000)
ax_sc = px_axes(876, 320, 1260, 649)

FS = 15

def style_axes(ax):
    ax.tick_params(labelsize=FS, width=1.0, length=5)
    for s in ['top', 'right']:
        ax.spines[s].set_visible(False)
    for s in ['left', 'bottom']:
        ax.spines[s].set_linewidth(1.0)
        ax.spines[s].set_color('#333333')

def profile_panel(ax, title, colored):
    for left, core, right in zip(grey_left, grey_core, grey_right):
        ax.plot(positions, left + core + right, color=grey_color, lw=2.4, zorder=1)
    for vals, c in zip(colored, codon_colors):
        ax.plot(positions, vals, color=c, lw=2.4, zorder=2)
    ax.set_xlim(-40, 20)
    ax.set_ylim(-1.5, 2)
    ax.set_xticks([-30, -20, -10, 0, 10])
    ax.set_yticks([0, 2])
    ax.set_title(title, fontsize=FS, pad=10.5)
    ax.set_xlabel('distance from A-site [codon]', fontsize=FS, labelpad=5.5)
    ax.set_ylabel('RUST ratio, (log2)', fontsize=FS, labelpad=6)
    style_axes(ax)

profile_panel(ax_top, 'Andreev unambiguous alignments', [aaa_top, ttt_top, ccc_top])
profile_panel(ax_bot, 'Andreev, >100 alignments positions', [aaa_bot, ttt_bot, ccc_bot])

ax_sc.scatter(rust_unambiguous, rust_100pos, s=22, color=grey_color, edgecolors='none')
ax_sc.set_xlim(0, 14)
ax_sc.set_ylim(0, 14)
ax_sc.set_xticks(range(0, 15, 2))
ax_sc.set_yticks(range(0, 15, 2))
ax_sc.set_title('A-site RUST ratio', fontsize=FS, pad=10)
ax_sc.set_xlabel('Andreev, unambiguous alignments', fontsize=FS, labelpad=6)
ax_sc.set_ylabel('Andreev, >100 alignment positions', fontsize=FS, labelpad=7)
style_axes(ax_sc)

handles = [Line2D([0], [0], color=c, lw=2.5) for c in codon_colors]
fig.legend(handles, codon_labels, loc='upper left', bbox_to_anchor=(744 / W, 1 - 22 / H),
           frameon=False, fontsize=FS, handlelength=0.6, handletextpad=1.0, labelspacing=0.08,
           borderaxespad=0.0)

fig.text(25 / W, 1 - 15 / H, 'a', fontsize=FS, fontweight='bold', ha='center', va='center')
fig.text(778 / W, 1 - 272 / H, 'b', fontsize=FS, fontweight='bold', ha='center', va='center')

fig.savefig('out.png', dpi=100)
